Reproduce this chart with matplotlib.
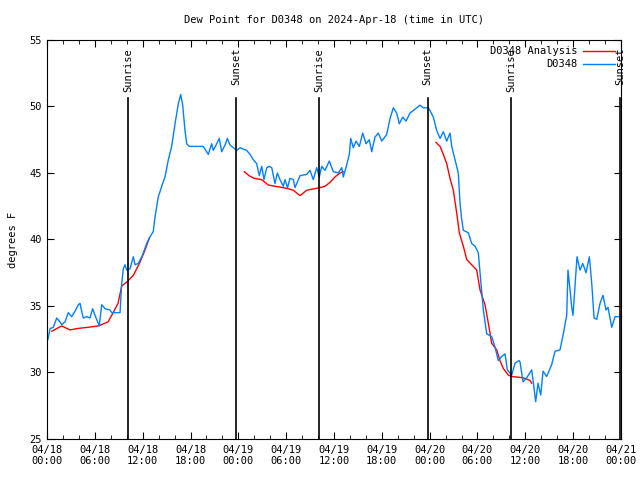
#!/usr/bin/env python3
# Dew point plot for D0348, station obs vs analysis, 3 days from 2024-04-18 UTC
import numpy as np
import matplotlib
matplotlib.use("Agg")
import matplotlib.pyplot as plt
from matplotlib.ticker import MultipleLocator

# time in hours since 04/18 00:00 UTC
obs_hours = [0.06, 0.16, 0.38, 0.79, 1.22, 1.63, 1.84, 2.26, 2.67, 3.10, 3.51, 3.93,
             4.14, 4.35, 4.55, 4.98, 5.39, 5.73, 6.02, 6.56, 6.86, 7.28, 7.90, 8.12,
             8.53, 9.16, 9.37, 9.57, 9.78, 10.00, 10.41, 10.83, 11.04, 11.45, 11.88,
             12.08, 12.51, 12.92, 13.33, 13.55, 13.96, 14.39, 14.80, 15.22, 15.64,
             16.06, 16.47, 16.77, 17.02, 17.31, 17.52, 17.85, 19.61, 20.23, 20.66,
             20.86, 21.29, 21.61, 21.91, 22.33, 22.62, 22.96, 23.37, 23.80, 24.21,
             25.05, 25.46, 25.88, 26.30, 26.63, 26.93, 27.22, 27.56, 27.89, 28.19,
             28.60, 28.89, 29.23, 29.64, 29.85, 30.17, 30.48, 30.90, 31.11, 31.74,
             32.58, 32.99, 33.40, 33.83, 34.16, 34.46, 34.87, 35.41, 35.91, 36.54,
             36.97, 37.17, 37.59, 37.92, 38.10, 38.42, 38.76, 39.18, 39.60, 40.02,
             40.43, 40.73, 41.14, 41.56, 41.99, 42.61, 43.03, 43.44, 43.87, 44.19,
             44.62, 45.03, 45.53, 45.95, 46.38, 46.79, 47.20, 47.83, 48.04, 48.46,
             48.88, 49.30, 49.71, 50.14, 50.55, 50.77, 51.18, 51.59, 51.81, 52.02,
             52.22, 52.85, 53.27, 53.69, 54.10, 54.53, 54.73, 55.16, 55.78, 56.20,
             56.61, 57.04, 57.45, 57.74, 58.29, 58.71, 59.21, 59.33, 59.71, 60.17,
             60.80, 61.30, 61.59, 61.93, 62.22, 62.68, 63.31, 63.72, 64.35, 64.73,
             65.19, 65.35, 65.61, 65.82, 65.98, 66.23, 66.48, 66.86, 67.20, 67.61,
             68.03, 68.33, 68.62, 68.96, 69.37, 69.74, 70.12, 70.37, 70.84, 71.25,
             71.95]
obs_dewpt = [32.4, 32.6, 33.3, 33.4, 34.1, 33.8, 33.6, 33.8, 34.5, 34.2, 34.6, 35.1,
             35.2, 34.6, 34.1, 34.2, 34.1, 34.8, 34.3, 33.5, 35.1, 34.8, 34.7, 34.5,
             34.5, 34.5, 36.7, 37.8, 38.1, 37.7, 37.8, 38.7, 38.1, 38.2, 38.7,
             39.0, 39.7, 40.2, 40.6, 41.7, 43.2, 44.0, 44.7, 46.0, 47.0,
             48.7, 50.2, 50.9, 50.1, 48.2, 47.2, 47.0, 47.0, 46.4, 47.2,
             46.7, 47.2, 47.6, 46.6, 47.1, 47.6, 47.1, 46.9, 46.7, 46.9,
             46.7, 46.4, 46.0, 45.7, 44.8, 45.5, 44.5, 45.4, 45.5, 45.4,
             44.2, 45.0, 44.5, 44.0, 44.5, 43.9, 44.6, 44.5, 43.9, 44.8,
             44.9, 45.2, 44.5, 45.4, 44.7, 45.5, 45.2, 45.9, 45.1, 45.0,
             45.4, 44.7, 45.6, 46.4, 47.6, 46.9, 47.4, 47.0, 48.0, 47.2,
             47.5, 46.6, 47.7, 48.0, 47.4, 47.9, 49.1, 49.9, 49.5, 48.7,
             49.2, 48.9, 49.5, 49.7, 49.9, 50.1, 49.9, 49.9, 49.7, 49.2,
             48.2, 47.6, 48.1, 47.4, 48.0, 47.0, 46.0, 45.0, 42.7, 41.5,
             40.7, 40.5, 39.7, 39.5, 39.0, 36.0, 34.7, 32.9, 32.7, 31.9,
             30.9, 31.2, 31.4, 30.2, 29.8, 30.7, 30.9, 30.8, 29.3, 29.6,
             30.2, 27.8, 29.2, 28.3, 30.1, 29.7, 30.6, 31.6, 31.7, 32.8,
             34.3, 37.7, 36.2, 34.9, 34.3, 36.5, 38.7, 37.7, 38.2, 37.5,
             38.7, 36.7, 34.1, 34.0, 35.2, 35.8, 34.7, 34.9, 33.4, 34.2,
             34.2]

# analysis, NaN marks gaps
ana_hours = [0.59, 1.84, 2.89, 3.73, 5.14, 6.44, 7.65, 8.12, 8.91, 9.37, 10.00, 10.83,
             11.67, 12.29, 12.83, np.nan,
             24.75, 25.34, 25.97, 26.93, 27.76, 28.60, 29.64, 30.39, 30.90, 31.74,
             32.58, 33.40, 34.24, 34.87, 35.50, 36.13, 36.75, 37.17, np.nan,
             48.80, 49.30, 49.71, 50.14, 50.55, 50.97, 51.39, 51.72, 52.22, 52.65,
             53.27, 53.90, 54.32, 54.94, 55.36, 55.78, 56.41, 56.82, 57.24, 57.87,
             58.29, 59.75, 60.59, 60.80]
ana_dewpt = [33.1, 33.5, 33.2, 33.3, 33.4, 33.5, 33.8, 34.3, 35.2, 36.5, 36.8, 37.3,
             38.3, 39.2, 40.1, np.nan,
             45.1, 44.8, 44.6, 44.5, 44.1, 44.0, 43.9, 43.8, 43.7, 43.3,
             43.7, 43.8, 43.9, 44.0, 44.3, 44.7, 45.0, 45.1, np.nan,
             47.3, 47.0, 46.4, 45.7, 44.6, 43.7, 42.0, 40.5, 39.5, 38.5,
             38.1, 37.7, 36.2, 35.1, 33.7, 32.2, 31.7, 30.9, 30.3, 29.8,
             29.7, 29.6, 29.4, 29.2]

sun_hours = [10.20, 23.75, 34.16, 47.73, 58.24, 71.88]
sun_labels = ["Sunrise", "Sunset", "Sunrise", "Sunset", "Sunrise", "Sunset"]

xtick_hours = list(range(0, 73, 6))
xtick_labels = ["04/18\n00:00", "04/18\n06:00", "04/18\n12:00", "04/18\n18:00",
                "04/19\n00:00", "04/19\n06:00", "04/19\n12:00", "04/19\n18:00",
                "04/20\n00:00", "04/20\n06:00", "04/20\n12:00", "04/20\n18:00",
                "04/21\n00:00"]

plt.rcParams['font.family'] = 'DejaVu Sans Mono'
plt.rcParams['font.size'] = 7.5

fig = plt.figure(figsize=(6.4, 4.8), dpi=100)
ax = fig.add_axes([47 / 640, 1 - 439 / 480, 574 / 640, 399 / 480])

ax.plot(ana_hours, ana_dewpt, color="#ff0000", lw=1, label="D0348 Analysis")
ax.plot(obs_hours, obs_dewpt, color="#0080ff", lw=1, label="D0348")

# sunrise / sunset markers
for h, s in zip(sun_hours, sun_labels):
    ax.axvline(h, ymin=0, ymax=0.855, color="black", lw=1.2)
    ax.text(h, 0.98, s, transform=ax.get_xaxis_transform(), rotation=90,
            ha="center", va="top", fontsize=7.5)

ax.set_xlim(0, 72)
ax.set_ylim(25, 55)
ax.set_xticks(xtick_hours)
ax.set_xticklabels(xtick_labels)
ax.xaxis.set_minor_locator(MultipleLocator(2))
ax.set_yticks(range(25, 56, 5))
ax.tick_params(which="both", direction="in", top=True, right=True)
ax.tick_params(which="major", length=5, pad=4)
ax.tick_params(which="minor", length=3)

ax.set_title("Dew Point for D0348 on 2024-Apr-18 (time in UTC)", fontsize=7.5, pad=12)
ax.set_ylabel("degrees F", labelpad=8)

ax.legend(loc="upper right", frameon=False, markerfirst=False, handlelength=3,
          borderaxespad=0.2, labelspacing=0.3, handletextpad=0.6)

plt.savefig("out.png", dpi=100)
